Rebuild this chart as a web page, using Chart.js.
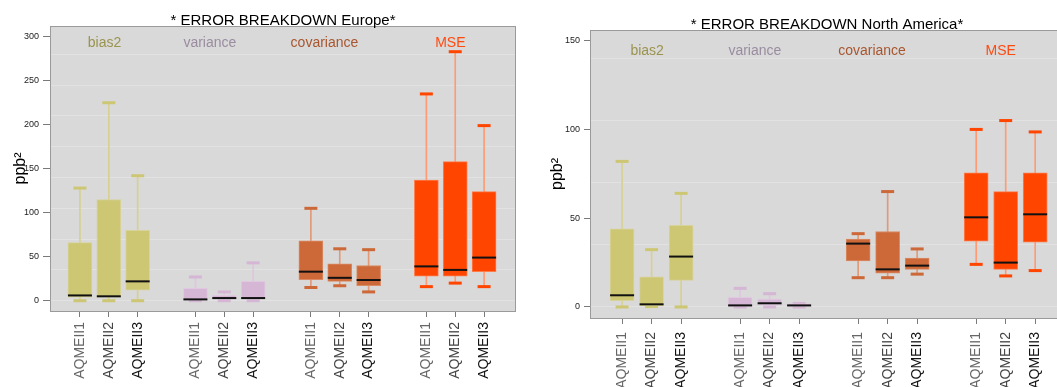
<!DOCTYPE html>
<html>
<head>
<meta charset="utf-8">
<script src="https://cdn.jsdelivr.net/npm/chart.js@4/dist/chart.umd.min.js"></script>
<style>
  html, body { margin: 0; padding: 0; background: #fff; overflow: hidden; width: 1057px; height: 387px; }
  #eu { position: absolute; left: 0; top: 0; }
  #na { position: absolute; left: 530px; top: 0; }
</style>
</head>
<body>
<canvas id="eu" width="530" height="387"></canvas>
<canvas id="na" width="549" height="387"></canvas>
<script>
// ---- data -------------------------------------------------------------
const models = ['AQMEII1', 'AQMEII2', 'AQMEII3'];
const components = ['bias2', 'variance', 'covariance', 'MSE'];
const yTicksEurope = [0, 50, 100, 150, 200, 250, 300];
const yTicksNorthAmerica = [0, 50, 100, 150];

// Europe (ppb^2): order is bias2 x3, variance x3, covariance x3, MSE x3
const euMin    = [0, 0, 0,      0, 0, 0,      15, 17, 10,    16, 20, 16];
const euQ1     = [4, 4, 12,     0.5, 2, 2,    24, 22, 17,    28, 28, 33];
const euMedian = [6, 5, 22,     1.5, 3, 3,    33, 26, 23.5,  39, 35, 49];
const euQ3     = [66, 115, 80,  14, 6, 22,    68, 42, 40,    137, 158, 124];
const euMax    = [128, 225, 142, 27, 10, 43,  105, 59, 58,   235, 283, 199];

// North America (ppb^2)
const naMin    = [0, 0.2, 0,      0, 0, 0,        16.5, 16.5, 18.5,  24, 17.5, 20.5];
const naQ1     = [3.6, 0.6, 15,   0, 1.1, 0,      26, 19, 21.2,      37, 21.2, 36.5];
const naMedian = [6.6, 1.5, 28.4, 0.9, 2.1, 0.9,  35.7, 21.2, 23.3,  50.5, 25, 52.2];
const naQ3     = [44, 17, 46,     5.4, 4.5, 1.8,  38.2, 42.5, 27.5,  75.5, 65, 75.5];
const naMax    = [82, 32.3, 64,   10.5, 7.5, 2,   41.3, 65, 32.7,    100, 105, 98.6];

// ---- styling ----------------------------------------------------------
const FONT = "'Liberation Sans', Arial, sans-serif";
const boxColors   = ['#cdc673', '#d5b6d5', '#cd6839', '#ff4500'];
const stemColors  = ['#d6d193', '#dec6de', '#e09a77', '#ff9a74'];
const edgeColors  = ['#d8d39a', '#e0c9e0', '#d98a62', '#ff7b4a'];
const labelColors = ['#9a944f', '#9a8ca0', '#a8562f', '#ff4a10'];
const tickShades  = ['#666666', '#444444', '#111111'];

// slot along the x axis: three boxes per component, one empty slot between groups
const slot = i => Math.floor(i / 3) * 4 + (i % 3);
const positions = euMin.map((_, i) => slot(i));
const perBox = arr => positions.map((_, i) => arr[Math.floor(i / 3)]);

// plot frame, title and component labels
const panelPlugin = {
  id: 'panel',
  beforeDraw(chart) {
    const { ctx, chartArea: a } = chart;
    ctx.save();
    ctx.fillStyle = '#d9d9d9';
    ctx.fillRect(a.left, a.top, a.right - a.left, a.bottom - a.top);
    ctx.restore();
  },
  afterDraw(chart, args, opts) {
    const { ctx, chartArea: a, scales } = chart;
    ctx.save();
    ctx.strokeStyle = '#9a9a9a';
    ctx.lineWidth = 1;
    ctx.strokeRect(Math.round(a.left) + 0.5, Math.round(a.top) + 0.5,
                   Math.round(a.right - a.left) - 1, Math.round(a.bottom - a.top));
    ctx.fillStyle = '#000';
    ctx.font = `15px ${FONT}`;
    ctx.textAlign = 'center';
    ctx.textBaseline = 'alphabetic';
    ctx.fillText(opts.title, opts.titleX ?? (a.left + a.right) / 2, a.top - 1);
    ctx.font = `14px ${FONT}`;
    ctx.textBaseline = 'middle';
    components.forEach((name, g) => {
      ctx.fillStyle = labelColors[g];
      ctx.fillText(name, scales.x.getPixelForValue(opts.labelAt[g]), a.top + opts.labelDy);
    });
    ctx.restore();
  }
};

function boxChart(id, cfg) {
  const { min, q1, median, q3, max } = cfg;
  const capPoints = [];
  const capColors = [];
  positions.forEach((x, i) => {
    capPoints.push({ x, y: min[i] }, { x, y: max[i] });
    const c = boxColors[Math.floor(i / 3)];
    capColors.push(c, c);
  });

  return new Chart(document.getElementById(id), {
    type: 'bar',
    data: {
      datasets: [
        { // medians
          type: 'line', order: 0, showLine: false, yAxisID: 'y',
          data: positions.map((x, i) => ({ x, y: median[i] })),
          pointStyle: 'line', pointRadius: 12, pointHoverRadius: 12,
          pointBorderWidth: 2, pointBorderColor: '#111', pointHoverBorderWidth: 2
        },
        { // boxes
          type: 'bar', order: 1, grouped: false, yAxisID: 'y',
          data: positions.map((x, i) => ({ x, y: [q1[i], q3[i]] })),
          barThickness: 24,
          backgroundColor: perBox(boxColors),
          borderColor: perBox(edgeColors),
          borderWidth: 1, borderSkipped: false
        },
        { // whisker caps
          type: 'line', order: 2, showLine: false, yAxisID: 'y',
          data: capPoints,
          pointStyle: 'line', pointRadius: 6.5, pointHoverRadius: 6.5,
          pointBorderWidth: 3, pointHoverBorderWidth: 3, pointBorderColor: capColors
        },
        { // whisker stems
          type: 'bar', order: 3, grouped: false, yAxisID: 'y',
          data: positions.map((x, i) => ({ x, y: [min[i], max[i]] })),
          barThickness: 1,
          backgroundColor: perBox(stemColors),
          borderWidth: 0
        }
      ]
    },
    options: {
      responsive: false,
      animation: false,
      events: [],
      layout: { padding: { top: cfg.top, right: cfg.padRight, left: 0, bottom: 0 } },
      plugins: {
        legend: { display: false },
        tooltip: { enabled: false },
        panel: { title: cfg.title, titleX: cfg.titleX, labelAt: [0.85, 4.5, 8.47, 12.83], labelDy: cfg.labelDy }
      },
      scales: {
        x: {
          type: 'linear', min: cfg.xMin, max: cfg.xMax, offset: false,
          afterBuildTicks: s => { s.ticks = positions.map(v => ({ value: v })); },
          afterFit: s => { s.height = cfg.xHeight; },
          ticks: {
            autoSkip: false, minRotation: 90, maxRotation: 90, padding: cfg.xPad,
            font: { family: FONT, size: 14 },
            color: c => tickShades[c.index % 3],
            callback: (v, i) => models[i % 3]
          },
          grid: {
            display: true, offset: false, drawOnChartArea: false, drawTicks: true,
            tickLength: 6, tickWidth: 1, tickColor: '#7a7a7a', color: '#7a7a7a'
          },
          border: { display: false }
        },
        y: {
          type: 'linear', position: 'left', min: cfg.yMin, max: cfg.yMax,
          afterBuildTicks: s => { s.ticks = cfg.yTicks.map(v => ({ value: v })); },
          afterFit: s => { s.width = cfg.yWidth; },
          ticks: {
            padding: 4, color: '#222',
            font: { family: FONT, size: 9 },
            callback: v => String(v)
          },
          grid: {
            drawOnChartArea: false, drawTicks: true, tickLength: cfg.yTickLen,
            tickColor: '#7a7a7a', color: '#7a7a7a'
          },
          border: { display: false },
          title: {
            display: true, text: 'ppb²', color: '#000',
            font: { family: FONT, size: 16 },
            padding: { top: cfg.yTitlePad, bottom: 0 }
          }
        },
        yg: {
          type: 'linear', position: 'right', min: cfg.yMin, max: cfg.yMax,
          afterBuildTicks: s => {
            const t = [];
            for (let v = 0; v <= cfg.yMax; v += 35) t.push({ value: v });
            s.ticks = t;
          },
          afterFit: s => { s.width = 0; },
          ticks: { display: false },
          grid: { color: '#e2e2e2', drawTicks: false },
          border: { display: false }
        }
      }
    },
    plugins: [panelPlugin]
  });
}

boxChart('eu', {
  title: '* ERROR BREAKDOWN Europe*',
  min: euMin, q1: euQ1, median: euMedian, q3: euQ3, max: euMax,
  yTicks: yTicksEurope, yMin: -11.7, yMax: 312.2,
  xMin: -1.037, xMax: 15.105,
  top: 26, padRight: 13, xHeight: 76, xPad: 5,
  yWidth: 50, yTickLen: 7, yTitlePad: 11.4, labelDy: 17.5
});

boxChart('na', {
  title: '* ERROR BREAKDOWN North America*', titleX: 297,
  min: naMin, q1: naQ1, median: naMedian, q3: naQ3, max: naMax,
  yTicks: yTicksNorthAmerica, yMin: -6.2, yMax: 156,
  xMin: -1.087, xMax: 15.01,
  top: 30, padRight: 0, xHeight: 69, xPad: 8,
  yWidth: 60, yTickLen: 6, yTitlePad: 18.4, labelDy: 20.7
});
</script>
</body>
</html>
